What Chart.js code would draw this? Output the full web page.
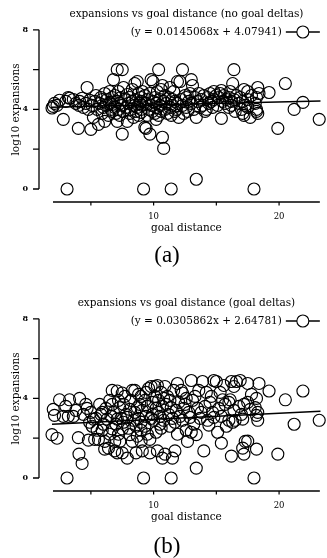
<!DOCTYPE html>
<html>
<head>
<meta charset="utf-8">
<script src="https://cdn.jsdelivr.net/npm/chart.js@4.4.0/dist/chart.umd.min.js"></script>
<style>
  body { margin: 0; background: #fff; width: 327px; height: 558px; position: relative; overflow: hidden; }
  canvas { position: absolute; left: 0; }
  .tag { position: absolute; left: 0; width: 334px; text-align: center; font-family: "Liberation Serif", serif; font-size: 23px; line-height: 24px; color: #000; }
</style>
</head>
<body>
<canvas id="chartA" width="327" height="245" style="top:0"></canvas>
<div class="tag" style="top:243px">(a)</div>
<canvas id="chartB" width="327" height="245" style="top:289px"></canvas>
<div class="tag" style="top:534px">(b)</div>
<script>
// goal distance is shared by both runs, one entry per problem
const goalDistance = [
  1.9, 2.0, 2.1, 2.3, 2.5, 2.8, 3.0, 3.1, 3.2, 3.3, 3.6, 3.8, 4.0, 4.05, 4.1, 4.3, 4.4, 4.6, 4.7, 4.8, 4.9, 5.0,
  5.1, 5.2, 5.3, 5.4, 5.5, 5.6, 5.7, 5.8, 5.9, 5.9, 6.0,
  6.1, 6.1, 6.2, 6.3, 6.4, 6.5, 6.5, 6.6, 6.7, 6.7, 6.7, 6.8, 6.9, 6.9, 7.0,
  7.1, 7.1, 7.1, 7.2, 7.2, 7.3, 7.3, 7.4, 7.5, 7.5, 7.5, 7.6, 7.6, 7.7, 7.8, 7.9, 7.9, 8.0,
  8.1, 8.1, 8.2, 8.3, 8.3, 8.4, 8.5, 8.5, 8.6, 8.6, 8.7, 8.7, 8.8, 8.8, 8.9,
  9.0, 9.0, 9.0, 9.0, 9.1, 9.1, 9.2, 9.3, 9.3, 9.4, 9.4, 9.5, 9.5, 9.6, 9.7, 9.7, 9.8, 9.8, 9.9, 9.95, 10.0,
  10.1, 10.1, 10.2, 10.2, 10.3, 10.3, 10.4, 10.4, 10.5, 10.5, 10.6, 10.6, 10.7, 10.7, 10.8, 10.8, 10.9, 10.9, 11.0,
  11.1, 11.2, 11.3, 11.3, 11.4, 11.4, 11.5, 11.5, 11.6, 11.7, 11.7, 11.8, 11.9, 11.9, 12.0,
  12.1, 12.2, 12.3, 12.3, 12.4, 12.5, 12.6, 12.6, 12.7, 12.8, 12.9, 13.0, 13.0,
  13.1, 13.2, 13.3, 13.4, 13.4, 13.5, 13.6, 13.7, 13.8, 13.9, 14.0,
  14.1, 14.2, 14.3, 14.4, 14.5, 14.6, 14.7, 14.8, 14.8, 15.0,
  15.1, 15.2, 15.3, 15.4, 15.4, 15.5, 15.6, 15.7, 15.8, 16.0, 16.0,
  16.1, 16.2, 16.2, 16.3, 16.4, 16.4, 16.5, 16.6, 16.8, 16.9, 17.0,
  17.1, 17.1, 17.2, 17.2, 17.3, 17.5, 17.5, 17.5, 17.7, 17.8, 18.0,
  18.1, 18.2, 18.2, 18.2, 18.3, 18.3, 18.4,
  19.2, 19.9, 20.5, 21.2, 21.9, 23.2
];
// log10 expansions, no goal deltas
const expansionsNoDeltas = [
  4.07, 4.15, 4.3, 4.2, 4.46, 3.5, 4.4, 0, 4.6, 4.56, 4.5, 4.3, 3.05, 4.2, 4.4, 4.56, 4.1, 4.3, 5.1, 4.0, 4.46, 3.0,
  4.2, 3.6, 4.4, 4.7, 4.0, 3.25, 4.3, 4.6, 3.8, 4.5, 4.1,
  3.4, 4.8, 4.2, 4.5, 3.7, 4.35, 4.9, 4.0, 4.6, 3.9, 4.25, 5.5, 4.1, 4.7, 3.8,
  6.0, 3.4, 4.4, 4.9, 4.0, 4.3, 3.7, 4.6, 6.0, 2.76, 4.2, 5.1, 3.9, 4.5, 4.1, 3.4, 4.75, 4.3,
  3.8, 4.6, 4.0, 4.4, 5.0, 3.6, 5.3, 4.2, 3.9, 4.5, 5.4, 4.1, 3.7, 4.8, 4.3,
  4.0, 4.6, 3.85, 4.4, 4.9, 4.2, 0, 3.1, 4.7, 3.05, 4.3, 3.7, 4.5, 4.0, 2.76, 4.8, 5.5, 4.2, 3.9, 5.4, 4.4,
  4.6, 3.8, 3.5, 4.3, 4.9, 4.1, 6.0, 3.7, 4.5, 4.2, 5.0, 3.9, 5.2, 2.6, 2.04, 4.4, 4.7, 4.0, 4.3,
  3.8, 4.6, 5.1, 4.1, 0, 3.7, 4.5, 4.2, 4.9, 3.9, 4.4, 4.0, 5.4, 4.3, 3.6,
  5.4, 4.5, 6.0, 4.2, 3.8, 4.7, 4.1, 4.6, 3.9, 4.4, 4.8, 5.5, 4.3,
  5.2, 4.0, 4.6, 0.49, 3.6, 4.4, 4.8, 4.1, 4.5, 4.2, 4.7,
  3.9, 4.0, 4.6, 4.3, 4.8, 4.4, 4.1, 4.9, 4.5, 4.7,
  4.2, 4.6, 4.8, 4.95, 3.55, 4.4, 4.7, 4.3, 4.5, 4.1, 4.6,
  4.9, 4.4, 4.2, 5.3, 6.0, 4.5, 3.9, 4.7, 4.3, 4.6, 4.0,
  4.4, 3.8, 5.0, 3.7, 4.2, 4.9, 4.5, 4.1, 3.6, 4.7, 0,
  4.3, 4.6, 4.0, 3.9, 5.1, 3.8, 4.8,
  4.85, 3.05, 5.3, 4.0, 4.35, 3.5
];
// log10 expansions, with goal deltas
const expansionsDeltas = [
  2.18, 3.45, 3.15, 2.0, 3.93, 3.1, 3.6, 0, 3.1, 3.93, 3.1, 3.4, 2.03, 1.2, 4.0, 0.73, 3.2, 3.7, 3.5, 1.9, 2.8, 3.3,
  2.6, 2.96, 1.94, 3.0, 2.4, 1.94, 3.7, 3.2, 3.3, 2.4, 2.7,
  1.84, 1.45, 3.5, 2.96, 1.5, 3.9, 2.2, 3.1, 4.4, 3.7, 2.47, 3.3, 1.36, 1.84, 2.7,
  4.37, 2.96, 1.26, 3.9, 2.2, 3.54, 1.84, 3.0, 4.27, 2.47, 1.26, 3.7, 2.8, 4.1, 3.2, 3.05, 1.0, 2.5,
  3.45, 2.18, 3.9, 4.4, 1.84, 2.9, 4.4, 3.3, 1.26, 2.6, 3.54, 2.1, 4.2, 3.0, 3.7,
  4.1, 2.8, 2.4, 1.84, 1.36, 3.4, 0, 3.9, 2.6, 3.1, 4.3, 3.6, 2.2, 4.5, 1.94, 1.26, 4.6, 3.0, 3.2, 3.8, 2.9,
  4.1, 4.6, 2.3, 3.5, 4.65, 1.36, 3.3, 3.9, 2.7, 3.1, 4.3, 2.5, 1.0, 3.6, 2.9, 4.0, 4.6, 1.2, 3.7,
  4.1, 3.2, 2.6, 3.9, 0, 3.54, 1.0, 3.0, 4.4, 2.8, 1.36, 3.4, 4.75, 2.2, 3.8,
  3.1, 4.4, 4.27, 2.9, 3.5, 3.7, 2.4, 4.0, 1.84, 3.3, 3.05, 4.9, 2.3,
  3.9, 2.7, 4.1, 0.5, 2.18, 3.5, 4.4, 3.0, 3.3, 4.85, 1.36,
  3.6, 4.3, 2.9, 2.66, 3.8, 4.1, 3.3, 4.9, 3.05, 4.85,
  2.3, 3.5, 4.3, 1.75, 3.1, 3.93, 4.65, 3.7, 2.6, 3.8, 2.9,
  3.93, 4.85, 1.1, 2.8, 4.6, 3.4, 2.9, 4.85, 3.6, 4.9, 3.2,
  2.96, 1.5, 1.2, 3.7, 1.84, 4.75, 3.8, 1.85, 3.45, 4.2, 0,
  3.54, 4.0, 3.15, 1.45, 3.3, 2.9, 4.75,
  4.37, 1.2, 3.93, 2.7, 4.37, 2.9
];

// fitted lines as printed in the legends
const fitNoDeltas = { slope: 0.0145068, intercept: 4.07941 };
const fitDeltas = { slope: 0.0305862, intercept: 2.64781 };

const xTicks = [5, 10, 15, 20];
const xTickLabels = ['', '10', '', '20'];
const yTicks = [0, 2, 4, 6, 8];
const yTickLabels = ['0', '', '4', '', '8'];

const serif = '"DejaVu Serif", serif';

// detached axis lines, header and legend
const framePlugin = {
  id: 'frame',
  afterDraw(chart, args, opts) {
    const { ctx, chartArea, scales: { x, y } } = chart;
    ctx.save();
    ctx.strokeStyle = '#000';
    ctx.lineWidth = 1.3;
    ctx.beginPath();
    const ax = chartArea.left - 14;
    ctx.moveTo(ax, y.getPixelForValue(8));
    ctx.lineTo(ax, y.getPixelForValue(0));
    yTicks.forEach(v => {
      const py = y.getPixelForValue(v);
      ctx.moveTo(ax - 6, py);
      ctx.lineTo(ax, py);
    });
    ctx.stroke();
    ctx.lineWidth = 1.6;
    ctx.beginPath();
    const ay = chartArea.bottom + 13;
    ctx.moveTo(chartArea.left, ay);
    ctx.lineTo(chartArea.right, ay);
    ctx.stroke();
    ctx.lineWidth = 1.2;
    ctx.beginPath();
    xTicks.forEach(v => {
      const px = x.getPixelForValue(v);
      ctx.moveTo(px, ay);
      ctx.lineTo(px, ay + 3.5);
    });
    ctx.stroke();

    ctx.fillStyle = '#000';
    ctx.font = '10.5px ' + serif;
    ctx.textBaseline = 'middle';
    ctx.textAlign = 'center';
    ctx.fillText(opts.title, (chartArea.left + chartArea.right) / 2, 14);
    ctx.textAlign = 'right';
    ctx.fillText(opts.legend, chartArea.right - 38, 32);

    ctx.lineWidth = 1.5;
    ctx.beginPath();
    ctx.moveTo(chartArea.right - 34, 32);
    ctx.lineTo(chartArea.right, 32);
    ctx.stroke();
    ctx.lineWidth = 1.1;
    ctx.beginPath();
    ctx.arc(chartArea.right - 17, 32, 6, 0, Math.PI * 2);
    ctx.fillStyle = '#fff';
    ctx.fill();
    ctx.stroke();
    ctx.restore();
  }
};

function makeChart(id, yValues, fit, title) {
  const points = goalDistance.map((d, i) => ({ x: d, y: yValues[i] }));
  const x0 = Math.min(...goalDistance);
  const x1 = 23.3;
  const legend = '(y = ' + fit.slope + 'x + ' + fit.intercept + ')';
  return new Chart(document.getElementById(id), {
    type: 'scatter',
    data: {
      datasets: [
        {
          label: legend,
          data: points,
          pointStyle: 'circle',
          pointRadius: 6,
          pointHoverRadius: 6,
          borderWidth: 1.15,
          borderColor: '#000',
          backgroundColor: 'rgba(0,0,0,0)',
          clip: false
        },
        {
          type: 'line',
          data: [
            { x: x0, y: fit.slope * x0 + fit.intercept },
            { x: x1, y: fit.slope * x1 + fit.intercept }
          ],
          borderColor: '#000',
          borderWidth: 1.5,
          pointRadius: 0,
          clip: false
        }
      ]
    },
    options: {
      responsive: false,
      animation: false,
      events: [],
      layout: { padding: { top: 24, right: 6, left: 0, bottom: 0 } },
      plugins: {
        legend: { display: false },
        tooltip: { enabled: false },
        frame: { title, legend }
      },
      scales: {
        x: {
          type: 'linear',
          min: 1.98,
          max: 23.25,
          afterFit: s => { s.height = 56; },
          afterBuildTicks: s => { s.ticks = xTicks.map(v => ({ value: v })); },
          grid: { display: false, drawTicks: false },
          border: { display: false },
          ticks: {
            padding: 23,
            autoSkip: false,
            maxRotation: 0,
            color: '#000',
            font: { family: serif, size: 8.5 },
            callback: (v, i) => xTickLabels[i]
          },
          title: {
            display: true,
            text: 'goal distance',
            color: '#000',
            font: { family: serif, size: 10.5 },
            padding: { top: 0, bottom: 10 }
          }
        },
        y: {
          type: 'linear',
          min: 0,
          max: 8,
          afterFit: s => { s.width = 53; },
          afterBuildTicks: s => { s.ticks = yTicks.map(v => ({ value: v })); },
          grid: { display: false, drawTicks: false },
          border: { display: false },
          ticks: {
            padding: 25,
            autoSkip: false,
            color: '#000',
            font: { family: serif, size: 8, weight: 'bold' },
            callback: (v, i) => yTickLabels[i]
          },
          title: {
            display: true,
            text: 'log10 expansions',
            color: '#000',
            font: { family: serif, size: 10.5 },
            padding: { top: 10, bottom: 0 }
          }
        }
      }
    },
    plugins: [framePlugin]
  });
}

makeChart('chartA', expansionsNoDeltas, fitNoDeltas, 'expansions vs goal distance (no goal deltas)');
makeChart('chartB', expansionsDeltas, fitDeltas, 'expansions vs goal distance (goal deltas)');
</script>
</body>
</html>
